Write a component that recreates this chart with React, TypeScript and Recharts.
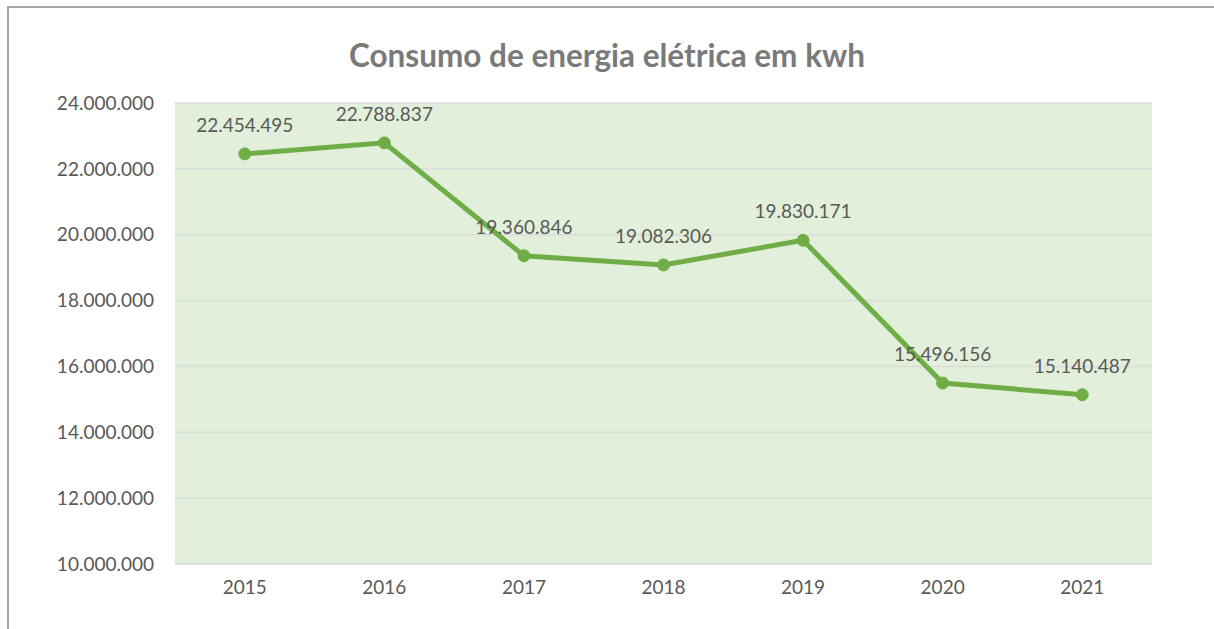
import React from "react";
import { LineChart, Line, XAxis, YAxis, CartesianGrid, LabelList } from "recharts";

const years = ["2015", "2016", "2017", "2018", "2019", "2020", "2021"];
const consumption = [22454495, 22788837, 19360846, 19082306, 19830171, 15496156, 15140487];
const yTicks = [10000000, 12000000, 14000000, 16000000, 18000000, 20000000, 22000000, 24000000];

const data = years.map((y, i) => ({ year: y, value: consumption[i] }));

const fmt = (v: number) => String(Math.round(v)).replace(/\B(?=(\d{3})+(?!\d))/g, ".");

const FONT = "Lato, 'Open Sans', sans-serif";

export default function App() {
  return (
    <div style={{ position: "fixed", left: 0, top: 0, width: 1214, height: 629, background: "#fff", overflow: "hidden" }}>
      <div
        style={{
          position: "absolute",
          left: 7,
          top: 6,
          width: 1240,
          height: 660,
          border: "2px solid #a6a6a6",
          boxSizing: "border-box",
        }}
      />
      <div
        style={{
          position: "absolute",
          left: 0,
          top: 35,
          width: 1214,
          textAlign: "center",
          fontFamily: FONT,
          fontWeight: 700,
          fontSize: 31.5,
          color: "#7a7a7a",
          lineHeight: "40px",
        }}
      >
        Consumo de energia elétrica em kwh
      </div>
      <div style={{ position: "absolute", left: 0, top: 0 }}>
        <LineChart width={1214} height={629} data={data} margin={{ top: 103, right: 62, bottom: 0, left: 0 }}>
          <CartesianGrid vertical={false} fill="#e2efda" stroke="#dcdcdc" strokeWidth={1.5} />
          <XAxis
            dataKey="year"
            scale="band"
            axisLine={false}
            tickLine={false}
            tickSize={0}
            tickMargin={17}
            height={65}
            tick={{ fill: "#595959", fontSize: 19, fontFamily: FONT }}
          />
          <YAxis
            width={175}
            domain={[10000000, 24000000]}
            ticks={yTicks}
            tickFormatter={fmt}
            axisLine={false}
            tickLine={false}
            tickSize={0}
            tickMargin={21}
            tick={{ fill: "#595959", fontSize: 19, fontFamily: FONT }}
          />
          <Line
            dataKey="value"
            stroke="#70ad47"
            strokeWidth={5}
            dot={{ r: 6, fill: "#70ad47", stroke: "#70ad47", strokeWidth: 1 }}
            isAnimationActive={false}
          >
            <LabelList
              dataKey="value"
              position="top"
              offset={22}
              formatter={(v: any) => fmt(Number(v))}
              style={{ fill: "#595959", fontSize: 19, fontFamily: FONT }}
            />
          </Line>
        </LineChart>
      </div>
    </div>
  );
}
